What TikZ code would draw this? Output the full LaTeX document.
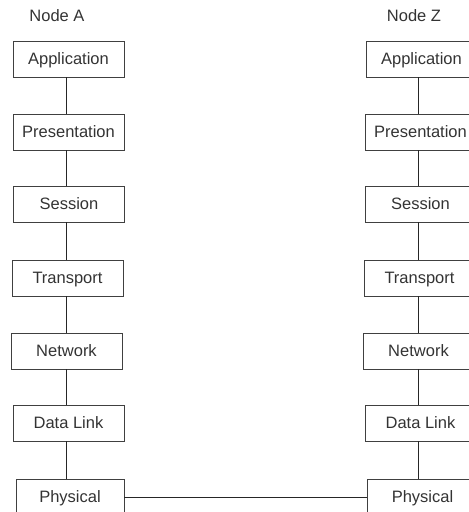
\documentclass[tikz,border=0pt]{standalone}
\usepackage{fontspec}
\setmainfont{Liberation Sans}
\begin{document}
\begin{tikzpicture}[x=1pt,y=-1pt,
  layer/.style={draw=black!75, line width=0.8pt, minimum width=111pt,
    minimum height=36pt, inner sep=0pt, text=black!80,
    text height=11.9pt, text depth=0pt,
    font=\fontsize{16.5}{20}\selectfont},
  title/.style={text=black!80, font=\fontsize{16.5}{20}\selectfont},
  link/.style={draw=black!85, line width=0.8pt}]
\useasboundingbox (0,0) rectangle (469,512);
\clip (0,0) rectangle (469,512);

% x positions of the vertical links of each stack
\coordinate (ca) at (66.5,0);
\coordinate (cz) at (418.5,0);

% Node A stack
\node[title] (ta) at (57,16) {Node A};
\node[layer] (a1) at (68.5,59)  {Application};
\node[layer] (a2) at (68.5,132) {Presentation};
\node[layer] (a3) at (69,204)   {Session};
\node[layer] (a4) at (67.5,278) {Transport};
\node[layer] (a5) at (66.5,351) {Network};
\node[layer] (a6) at (68.5,423) {Data Link};
\node[layer,minimum width=108pt] (a7) at (70,497) {Physical};

% Node Z stack
\node[title] (tz) at (414,16) {Node Z};
\node[layer] (z1) at (421.5,59)  {Application};
\node[layer] (z2) at (420.5,132) {Presentation};
\node[layer] (z3) at (420.5,204) {Session};
\node[layer] (z4) at (419.5,278) {Transport};
\node[layer] (z5) at (418.5,351) {Network};
\node[layer] (z6) at (420.5,423) {Data Link};
\node[layer] (z7) at (422.5,497) {Physical};

% vertical links within each stack
\foreach \i/\j in {1/2,2/3,3/4,4/5,5/6,6/7}{
  \draw[link] (a\i.south -| ca) -- (a\j.north -| ca);
  \draw[link] (z\i.south -| cz) -- (z\j.north -| cz);
}
% physical medium between the two nodes
\draw[link] (a7.east) -- (z7.west);
\end{tikzpicture}
\end{document}
